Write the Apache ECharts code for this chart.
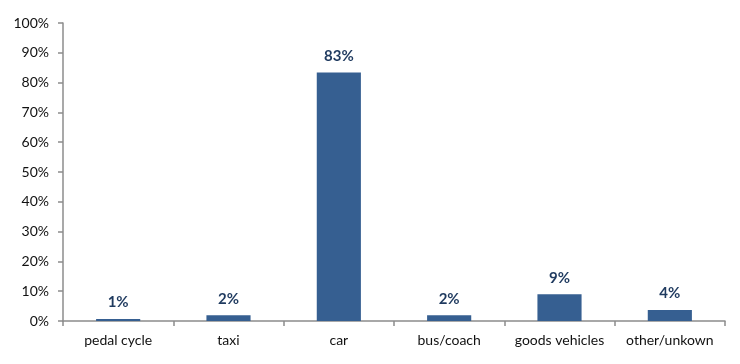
<!DOCTYPE html>
<html><head><meta charset="utf-8">
<script src="https://cdn.jsdelivr.net/npm/echarts@6/dist/echarts.min.js"></script>
<style>html,body{margin:0;padding:0;background:#fff}#c{width:740px;height:364px}</style>
</head><body><div id="c"></div>
<script>
const categories = ["pedal cycle", "taxi", "car", "bus/coach", "goods vehicles", "other/unkown"];
const shares = [0.7, 1.9, 83.4, 1.9, 9.0, 3.7];
const labels = ["1%", "2%", "83%", "2%", "9%", "4%"];
const yTicks = [0, 10, 20, 30, 40, 50, 60, 70, 80, 90, 100];

const chart = echarts.init(document.getElementById('c'), null, {renderer: 'canvas'});
chart.setOption({
  animation: false,
  grid: {left: 63, right: 15, top: 23, bottom: 43},
  xAxis: {
    type: 'category', data: categories,
    axisLine: {lineStyle: {color: '#8c8c8c', width: 1.5}},
    axisTick: {show: true, interval: 0, length: 5, lineStyle: {color: '#8c8c8c', width: 1.5}},
    axisLabel: {interval: 0, color: '#111', fontFamily: 'Lato', fontSize: 14, margin: 12}
  },
  yAxis: {
    type: 'value', min: yTicks[0], max: yTicks[yTicks.length - 1], interval: 10,
    axisLine: {show: true, lineStyle: {color: '#8c8c8c', width: 1.5}},
    axisTick: {show: true, length: 5, lineStyle: {color: '#8c8c8c', width: 1.5}},
    splitLine: {show: false},
    axisLabel: {color: '#111', fontFamily: 'Lato', fontSize: 14, margin: 14, formatter: v => v + '%'}
  },
  series: [{
    type: 'bar', data: shares, barWidth: '40%',
    itemStyle: {color: '#365f91'},
    label: {show: true, position: 'top', distance: 9, color: '#1f3a5f', fontFamily: 'Lato', fontWeight: 'bold', fontSize: 15,
      formatter: p => labels[p.dataIndex]}
  }]
});
</script></body></html>
